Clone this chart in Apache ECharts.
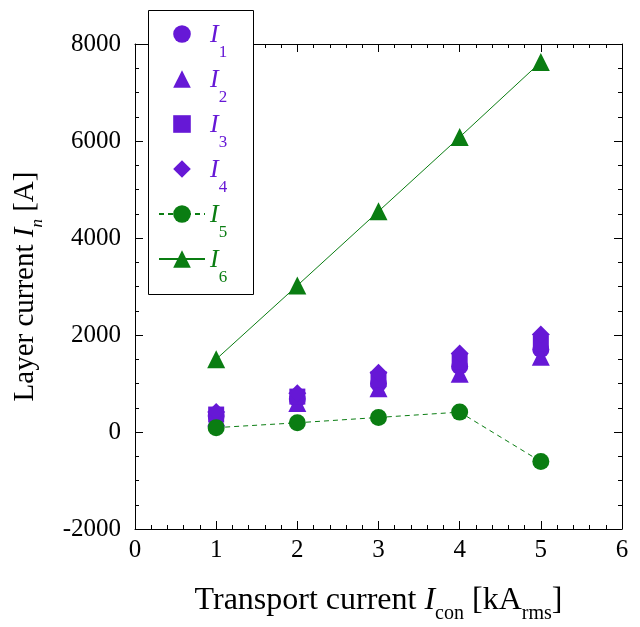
<!DOCTYPE html>
<html>
<head>
<meta charset="utf-8">
<script src="https://cdn.jsdelivr.net/npm/echarts@6/dist/echarts.min.js"></script>
<style>
  html, body { margin: 0; padding: 0; background: #fff; }
  #chart { width: 640px; height: 627px; }
</style>
</head>
<body>
<div id="chart"></div>
<script>
// transport current [kA rms]
var transport = [1, 2, 3, 4, 5];
// layer currents [A]
var I1 = [330, 680, 1000, 1350, 1700];
var I2 = [300, 600, 900, 1200, 1550];
var I3 = [360, 730, 1090, 1460, 1820];
var I4 = [410, 800, 1220, 1620, 2010];
var I5 = [90, 190, 300, 410, -610];
var I6 = [1500, 3020, 4550, 6080, 7630];

var purple = "#6618d6";
var green = "#0a7d12";
var serif = "Liberation Serif";

function pts(vals) {
	return transport.map(function (x, i) { return [x, vals[i]]; });
}

function layer(name, vals, symbol, size, color, dashed) {
	var s = {
		name: name,
		type: "line",
		data: pts(vals),
		symbol: symbol,
		symbolSize: size,
		itemStyle: { color: color },
		lineStyle: { color: color, width: 1, type: dashed ? [5, 4] : "solid" },
		emphasis: { disabled: true }
	};
	if (dashed === null) s.lineStyle = { color: "rgba(0,0,0,0)", width: 1 };
	return s;
}

var chart = echarts.init(document.getElementById("chart"));

var tickStyle = { color: "#000", width: 1 };
function plain(v) { return String(v); }

chart.setOption({
	animation: false,
	grid: { left: 135, right: 18, top: 44, bottom: 98, outerBoundsMode: "none" },
	xAxis: [
		{
			type: "value", min: 0, max: 6, interval: 1,
			name: "{t|Transport current }{i|I}{s|con}{t| [kA}{s|rms}{t|]}",
			nameLocation: "middle", nameGap: 56,
			nameTextStyle: {
				rich: {
					t: { fontFamily: serif, fontSize: 32, color: "#000", verticalAlign: "top" },
					i: { fontFamily: serif, fontSize: 32, fontStyle: "italic", color: "#000", verticalAlign: "top" },
					s: { fontFamily: serif, fontSize: 20, color: "#000", verticalAlign: "top", padding: [19, 0, 0, 0] }
				}
			},
			axisLine: { onZero: false, lineStyle: tickStyle },
			axisTick: { inside: true, length: 8, lineStyle: tickStyle },
			minorTick: { show: true, splitNumber: 5, length: 4, lineStyle: tickStyle },
			axisLabel: { fontFamily: serif, fontSize: 25, color: "#000", margin: 9, formatter: plain },
			splitLine: { show: false }
		},
		{
			type: "value", min: 0, max: 6, interval: 1, position: "top",
			axisLine: { onZero: false, lineStyle: tickStyle },
			axisTick: { inside: true, length: 8, lineStyle: tickStyle },
			minorTick: { show: true, splitNumber: 5, length: 4, lineStyle: tickStyle },
			axisLabel: { show: false },
			splitLine: { show: false }
		}
	],
	yAxis: [
		{
			type: "value", min: -2000, max: 8000, interval: 2000,
			name: "{t|Layer current }{i|I}{s|n}{t| [A]}",
			nameLocation: "middle", nameGap: 89, nameRotate: 90,
			nameTextStyle: {
				rich: {
					t: { fontFamily: serif, fontSize: 29, color: "#000", verticalAlign: "top" },
					i: { fontFamily: serif, fontSize: 29, fontStyle: "italic", color: "#000", verticalAlign: "top" },
					s: { fontFamily: serif, fontSize: 17, fontStyle: "italic", color: "#000", verticalAlign: "top", padding: [18, 0, 0, 0] }
				}
			},
			axisLine: { onZero: false, lineStyle: tickStyle },
			axisTick: { inside: true, length: 8, lineStyle: tickStyle },
			minorTick: { show: true, splitNumber: 4, length: 4, lineStyle: tickStyle },
			axisLabel: { fontFamily: serif, fontSize: 25, color: "#000", margin: 14, formatter: plain },
			splitLine: { show: false }
		},
		{
			type: "value", min: -2000, max: 8000, interval: 2000, position: "right",
			axisLine: { onZero: false, lineStyle: tickStyle },
			axisTick: { inside: true, length: 8, lineStyle: tickStyle },
			minorTick: { show: true, splitNumber: 4, length: 4, lineStyle: tickStyle },
			axisLabel: { show: false },
			splitLine: { show: false }
		}
	],
	graphic: [{
		type: "rect", z: 3,
		shape: { x: 148.5, y: 10.5, width: 105, height: 284 },
		style: { fill: "#fff", stroke: "#000", lineWidth: 1 }
	}],
	legend: {
		orient: "vertical", left: 158, top: 22, padding: 0, itemGap: 6,
		itemWidth: 46, itemHeight: 22,
		selectedMode: false,
		formatter: function (name) {
			var n = name.slice(1);
			var g = n === "5" || n === "6";
			return (g ? "{ig|I}{sg|" : "{ip|I}{sp|") + n + "}";
		},
		textStyle: {
			rich: {
				ip: { fontFamily: serif, fontSize: 26, fontStyle: "italic", color: purple, lineHeight: 24, verticalAlign: "top" },
				sp: { fontFamily: serif, fontSize: 17, color: purple, lineHeight: 16, verticalAlign: "top", padding: [22, 0, 0, 0] },
				ig: { fontFamily: serif, fontSize: 26, fontStyle: "italic", color: green, lineHeight: 24, verticalAlign: "top" },
				sg: { fontFamily: serif, fontSize: 17, color: green, lineHeight: 16, verticalAlign: "top", padding: [22, 0, 0, 0] }
			}
		},
		data: ["I1", "I2", "I3", "I4", "I5", "I6"]
	},
	series: [
		layer("I1", I1, "circle", 17, purple, null),
		layer("I2", I2, "triangle", 18, purple, null),
		layer("I3", I3, "rect", 16, purple, null),
		layer("I4", I4, "diamond", 18, purple, null),
		layer("I5", I5, "circle", 17, green, true),
		layer("I6", I6, "triangle", 18, green, false)
	]
});
</script>
</body>
</html>
